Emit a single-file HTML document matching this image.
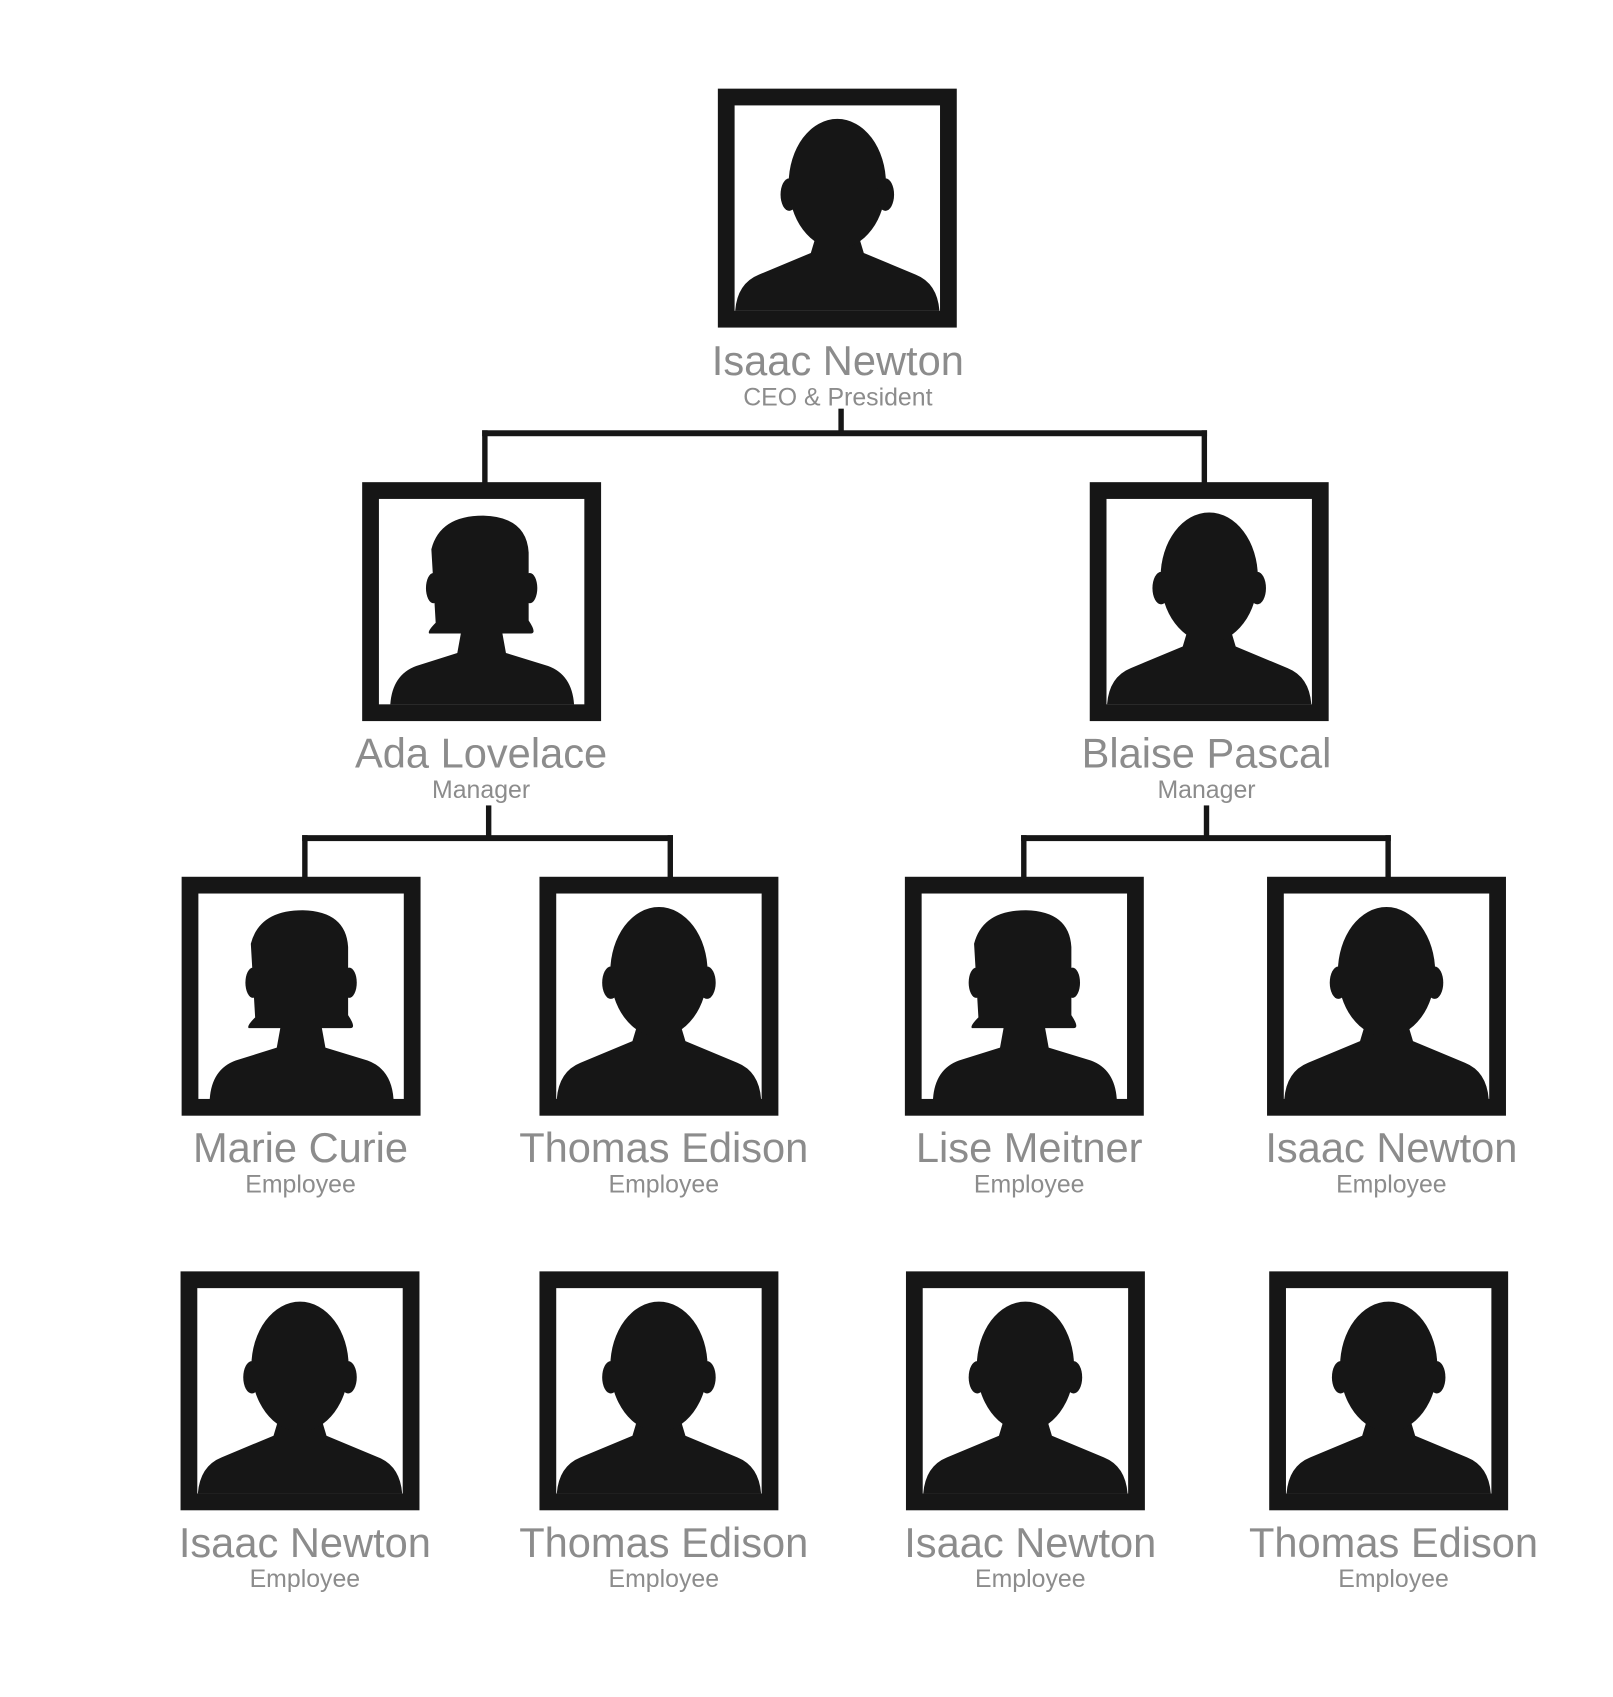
<!DOCTYPE html>
<html><head><meta charset="utf-8"><style>
html,body{margin:0;padding:0;background:#fff;}
svg{display:block;}
text{font-family:"Liberation Sans",Arial,sans-serif;fill:#8c8c8c;text-anchor:middle;}
.n{font-size:38.5px;}
.s{font-size:23px;}
</style></head><body>
<svg width="1613" height="1697" viewBox="0 0 1613 1697" xmlns="http://www.w3.org/2000/svg">
<defs>
<g id="man">
<rect x="0" y="0" width="221" height="221" fill="#161616"/>
<rect x="15.5" y="15.5" width="190" height="190" fill="#fff"/>
<path fill="#161616" d="M16,205.5 Q18,180 38,172 L86,152 L92,132 L129,132 L135,152 L183,172 Q203,180 205,205.5 Z"/>
<ellipse cx="110.5" cy="88" rx="45" ry="60" fill="#161616"/>
<ellipse cx="66" cy="98" rx="8" ry="15" fill="#161616"/>
<ellipse cx="155" cy="98" rx="8" ry="15" fill="#161616"/>
</g>
<g id="woman">
<rect x="0" y="0" width="221" height="221" fill="#161616"/>
<rect x="15.5" y="15.5" width="190" height="190" fill="#fff"/>
<path fill="#161616" d="M26,205.5 Q28,178 50,170 L88,158 L94,125 L127,125 L133,158 L172,170 Q194,178 196,205.5 Z"/>
<path fill="#161616" d="M68,130 L64,62 Q72,31 112,31 Q152,32 154,65 L154,128 Q162,140 156,140 L138,140 L84,140 L62,140 Q60,138 68,130 Z"/>
<ellipse cx="66" cy="98" rx="7" ry="14" fill="#161616"/>
<ellipse cx="155" cy="98" rx="7" ry="14" fill="#161616"/>
</g>
</defs>
<g transform="scale(1.0811)">
<g fill="#161616">
<rect x="775.5" y="378" width="5" height="24"/>
<rect x="446" y="398" width="670.5" height="5.5"/>
<rect x="446" y="398" width="5" height="50"/>
<rect x="1111.5" y="398" width="5" height="50"/>
<rect x="449.5" y="745" width="5" height="30"/>
<rect x="279.5" y="772.5" width="343" height="5.5"/>
<rect x="279.5" y="772.5" width="5" height="40"/>
<rect x="617.5" y="772.5" width="5" height="40"/>
<rect x="1113.5" y="745" width="5" height="30"/>
<rect x="944.5" y="772.5" width="342" height="5.5"/>
<rect x="944.5" y="772.5" width="5" height="40"/>
<rect x="1281.5" y="772.5" width="5" height="40"/>
</g>
<use href="#man" x="664" y="82"/>
<text class="n" x="775" y="347">Isaac Newton</text>
<text class="s" x="775" y="375">CEO &amp; President</text>

<use href="#woman" x="335" y="446"/>
<text class="n" x="445" y="710">Ada Lovelace</text>
<text class="s" x="445" y="738">Manager</text>
<use href="#man" x="1008" y="446"/>
<text class="n" x="1116" y="710">Blaise Pascal</text>
<text class="s" x="1116" y="738">Manager</text>

<use href="#woman" x="168" y="811"/>
<text class="n" x="278" y="1075">Marie Curie</text>
<text class="s" x="278" y="1103">Employee</text>
<use href="#man" x="499" y="811"/>
<text class="n" x="614" y="1075">Thomas Edison</text>
<text class="s" x="614" y="1103">Employee</text>
<use href="#woman" x="837" y="811"/>
<text class="n" x="952" y="1075">Lise Meitner</text>
<text class="s" x="952" y="1103">Employee</text>
<use href="#man" x="1172" y="811"/>
<text class="n" x="1287" y="1075">Isaac Newton</text>
<text class="s" x="1287" y="1103">Employee</text>

<use href="#man" x="167" y="1176"/>
<text class="n" x="282" y="1440">Isaac Newton</text>
<text class="s" x="282" y="1468">Employee</text>
<use href="#man" x="499" y="1176"/>
<text class="n" x="614" y="1440">Thomas Edison</text>
<text class="s" x="614" y="1468">Employee</text>
<use href="#man" x="838" y="1176"/>
<text class="n" x="953" y="1440">Isaac Newton</text>
<text class="s" x="953" y="1468">Employee</text>
<use href="#man" x="1174" y="1176"/>
<text class="n" x="1289" y="1440">Thomas Edison</text>
<text class="s" x="1289" y="1468">Employee</text>
</g>
</svg>
</body></html>
